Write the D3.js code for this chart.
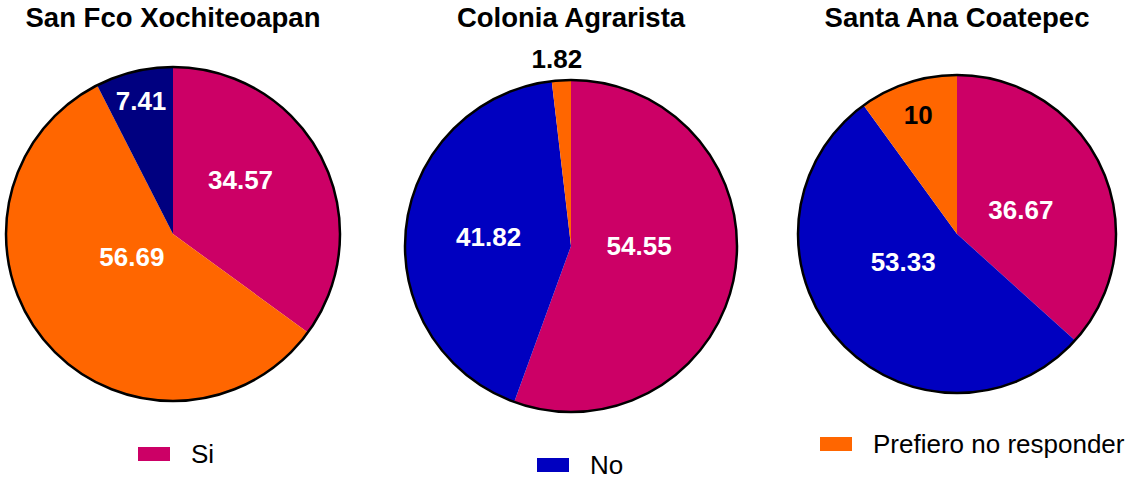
<!DOCTYPE html>
<meta charset="utf-8">
<script src="https://d3js.org/d3.v7.min.js"></script>
<style>
  body { margin: 0; background: #fff; }
  text { font-family: "Liberation Sans", Arial, sans-serif; }
</style>
<div id="my_dataviz"></div>
<script>

    // data (slices listed clockwise from 12 o'clock)
    const titles = ["San Fco Xochiteoapan", "Colonia Agrarista", "Santa Ana Coatepec"];
    const xochiValues = [34.57, 56.69, 7.41];
    const xochiColors = ["#cc0066", "#ff6600", "#000080"];
    const agraValues = [54.55, 41.82, 1.82];
    const agraColors = ["#cc0066", "#0000c0", "#ff6600"];
    const coatValues = [36.67, 53.33, 10];
    const coatColors = ["#cc0066", "#0000c0", "#ff6600"];
    const legendLabels = ["Si", "No", "Prefiero no responder"];
    const legendColors = ["#cc0066", "#0000c0", "#ff6600"];

    const width = 1127, height = 478;

    // layout of each pie: centre, radius, label placement (radius fraction, angle nudge in deg, text colour)
    const pies = [
        { title: titles[0], values: xochiValues, colors: xochiColors, cx: 173, cy: 234, r: 167,
          labels: [{ f: 0.52, da: -12, c: "#fff" }, { f: 0.28, da: 12, c: "#fff" }, { f: 0.82, da: 0, c: "#fff" }] },
        { title: titles[1], values: agraValues, colors: agraColors, cx: 571, cy: 246, r: 166,
          labels: [{ f: 0.41, da: -10, c: "#fff" }, { f: 0.50, da: 0, c: "#fff" }, { f: 1.13, da: -1, c: "#000" }] },
        { title: titles[2], values: coatValues, colors: coatColors, cx: 957, cy: 234, r: 159,
          labels: [{ f: 0.43, da: 3, c: "#fff" }, { f: 0.38, da: 15, c: "#fff" }, { f: 0.79, da: 0, c: "#000" }] }
    ];

    const legendPos = [{ x: 138, y: 447 }, { x: 537, y: 458 }, { x: 820, y: 437 }];

    const svg = d3.select("#my_dataviz")
        .append("svg")
        .attr("width", width)
        .attr("height", height);

    const pie = d3.pie().sort(null).value(d => d);

    pies.forEach(p => {
        const g = svg.append("g")
            .attr("transform", "translate(" + p.cx + "," + p.cy + ")");

        const arc = d3.arc().innerRadius(0).outerRadius(p.r);
        const arcs = pie(p.values);

        g.selectAll("path")
            .data(arcs)
            .enter()
            .append("path")
            .attr("d", arc)
            .attr("fill", (d, i) => p.colors[i]);

        // outline only round the rim
        g.append("circle")
            .attr("r", p.r)
            .attr("fill", "none")
            .attr("stroke", "#000")
            .attr("stroke-width", 2.5);

        g.selectAll(".lbl")
            .data(arcs)
            .enter()
            .append("text")
            .attr("class", "lbl")
            .attr("transform", (d, i) => {
                const L = p.labels[i];
                const a = (d.startAngle + d.endAngle) / 2 + L.da * Math.PI / 180;
                const rr = p.r * L.f;
                return "translate(" + (rr * Math.sin(a)) + "," + (-rr * Math.cos(a)) + ")";
            })
            .attr("text-anchor", "middle")
            .attr("dy", "0.36em")
            .style("font-size", "26px")
            .style("font-weight", "bold")
            .style("fill", (d, i) => p.labels[i].c)
            .text(d => d.data);

        svg.append("text")
            .attr("x", p.cx)
            .attr("y", 27)
            .attr("text-anchor", "middle")
            .style("font-size", "27.5px")
            .style("font-weight", "bold")
            .text(p.title);
    });

    // legend, one entry under each pie
    const legend = svg.selectAll(".legend")
        .data(legendLabels)
        .enter().append("g")
        .attr("class", "legend")
        .attr("transform", (d, i) => "translate(" + legendPos[i].x + "," + legendPos[i].y + ")");

    legend.append("rect")
        .attr("width", 32)
        .attr("height", 14)
        .style("fill", (d, i) => legendColors[i]);

    legend.append("text")
        .attr("x", 53)
        .attr("y", 16)
        .style("font-size", "26px")
        .text(d => d);

</script>
